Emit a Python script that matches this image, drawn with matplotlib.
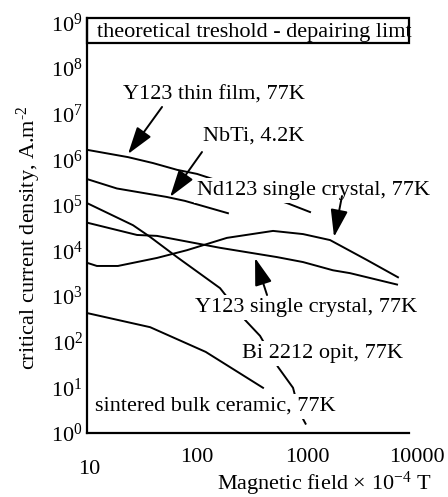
import matplotlib
matplotlib.use('Agg')
import matplotlib.pyplot as plt
from matplotlib.patches import Rectangle

plt.rcParams['font.family'] = ['Liberation Serif', 'DejaVu Serif']
plt.rcParams['mathtext.fontset'] = 'custom'
plt.rcParams['mathtext.rm'] = 'Liberation Serif'
plt.rcParams['mathtext.it'] = 'Liberation Serif:italic'
plt.rcParams['mathtext.bf'] = 'Liberation Serif:bold'

# ---- data (field in 1e-4 T, Jc in A/m^2) ----
thin_film_x = [10, 23.6, 39.8, 65.8, 100, 658, 1065]
thin_film_y = [1.62e6, 1.12e6, 8.3e5, 5.9e5, 4.8e5, 1.1e5, 7.0e4]

nbti_x = [10, 18.7, 53, 77.6, 191]
nbti_y = [3.7e5, 2.3e5, 1.5e5, 1.23e5, 6.6e4]

bi2212_x = [10, 26.2, 37.4, 65.8, 162, 273, 374, 545, 746, 850, 970]
bi2212_y = [1.1e5, 3.6e4, 2.0e4, 7.2e3, 1.5e3, 302, 135, 28, 9.8, 2.9, 1.6]

y123_sc_x = [10, 28.5, 43.3, 162, 533, 920, 1720, 2460, 6580]
y123_sc_y = [4.1e4, 2.2e4, 2.1e4, 1.15e4, 7.2e3, 5.6e3, 3.7e3, 3.2e3, 1.8e3]

nd123_x = [10, 12.3, 19.1, 43.3, 81, 187, 491, 920, 1620, 3510, 6710]
nd123_y = [5.4e3, 4.6e3, 4.6e3, 6.9e3, 1.02e4, 1.9e4, 2.7e4, 2.3e4, 1.7e4, 6.2e3, 2.6e3]

ceramic_x = [10, 37.5, 120, 398]
ceramic_y = [427, 209, 60, 9.8]

x_tick_values = [10, 100, 1000, 10000]
x_tick_labels = ['10', '100', '1000', '10000']
y_tick_values = [1e0, 1e1, 1e2, 1e3, 1e4, 1e5, 1e6, 1e7, 1e8, 1e9]
y_tick_labels = [r'$10^{%d}$' % i for i in range(10)]

fig = plt.figure(figsize=(4.48, 4.97), dpi=100)
W, H = 448, 497
left, right, top, bottom = 87, 409, 18, 433
ax = fig.add_axes([left / W, 1 - bottom / H, (right - left) / W, (bottom - top) / H])
ax.set_xscale('log')
ax.set_yscale('log')
ax.set_xlim(10, 10 ** 3.927)
ax.set_ylim(1, 10 ** 9.10)

lw = 1.4
for xs, ys in [(thin_film_x, thin_film_y), (nbti_x, nbti_y), (bi2212_x, bi2212_y),
               (y123_sc_x, y123_sc_y), (nd123_x, nd123_y), (ceramic_x, ceramic_y)]:
    ax.plot(xs, ys, color='black', lw=lw, zorder=2)

for s in ['top', 'right']:
    ax.spines[s].set_visible(False)
for s in ['left', 'bottom']:
    ax.spines[s].set_linewidth(1.6)

ax.set_yticks(y_tick_values)
ax.set_yticklabels(y_tick_labels, fontsize=16)
ax.yaxis.set_minor_locator(matplotlib.ticker.NullLocator())
ax.xaxis.set_minor_locator(matplotlib.ticker.NullLocator())
ax.tick_params(axis='y', length=0, pad=3)
ax.set_xticks([])

# x tick labels placed as text (first one is offset lower as in reference)
xt_off = [-0.089, -0.058, -0.058, -0.058]
trans = matplotlib.transforms.blended_transform_factory(ax.transData, ax.transAxes)
for v, lab, off in zip(x_tick_values, x_tick_labels, xt_off):
    ax.text(v * (1.0 if v > 10 else 1.05), off, lab, transform=trans, ha='center', va='center',
            fontsize=16, clip_on=False)

fs = 16
bb = dict(boxstyle='square,pad=0.12', fc='white', ec='none')

# theoretical limit box
ax.add_patch(Rectangle((0, 0.94), 1.0, 0.06, transform=ax.transAxes, fill=False,
                       ec='black', lw=1.6, clip_on=False, zorder=5))
ax.text(12.3, 10 ** 8.684, 'theoretical treshold - depairing limt', fontsize=fs,
        ha='left', va='baseline')

labels = [
    ('Y123 thin film, 77K', 21.2, 10 ** 7.303),
    ('NbTi, 4.2K', 113, 10 ** 6.404),
    ('Nd123 single crystal, 77K', 100, 10 ** 5.219),
    ('Y123 single crystal, 77K', 96, 10 ** 2.654),
    ('Bi 2212 opit, 77K', 256, 10 ** 1.645),
    ('sintered bulk ceramic, 77K', 11.8, 10 ** 0.482),
]
for t, x, y in labels:
    ax.text(x, y, t, fontsize=fs, ha='left', va='baseline', bbox=bb, zorder=3)

arrows = [
    ((23.6, 1.31e6), (48.1, 1.41e7)),
    ((56.9, 1.5e5), (111, 1.45e6)),
    ((1760, 1.99e4), (2080, 1.57e5)),
    ((337, 6.9e3), (433, 1.06e3)),
]
for head, tail in arrows:
    ax.annotate('', xy=head, xytext=tail,
                arrowprops=dict(arrowstyle='-|>,head_length=1.2,head_width=0.38',
                                mutation_scale=14, color='black', lw=1.4,
                                shrinkA=0, shrinkB=0), zorder=4)

fig.text(29 / W, 1 - 238 / H, r'critical current density, A.m$^{\text{-2}}$', rotation=90,
         ha='center', va='center', fontsize=16)
fig.text(324 / W, 1 - 484 / H, r'Magnetic field $\times$ 10$^{-4}$ T',
         ha='center', va='center', fontsize=16)

fig.savefig('out.png', dpi=100)
